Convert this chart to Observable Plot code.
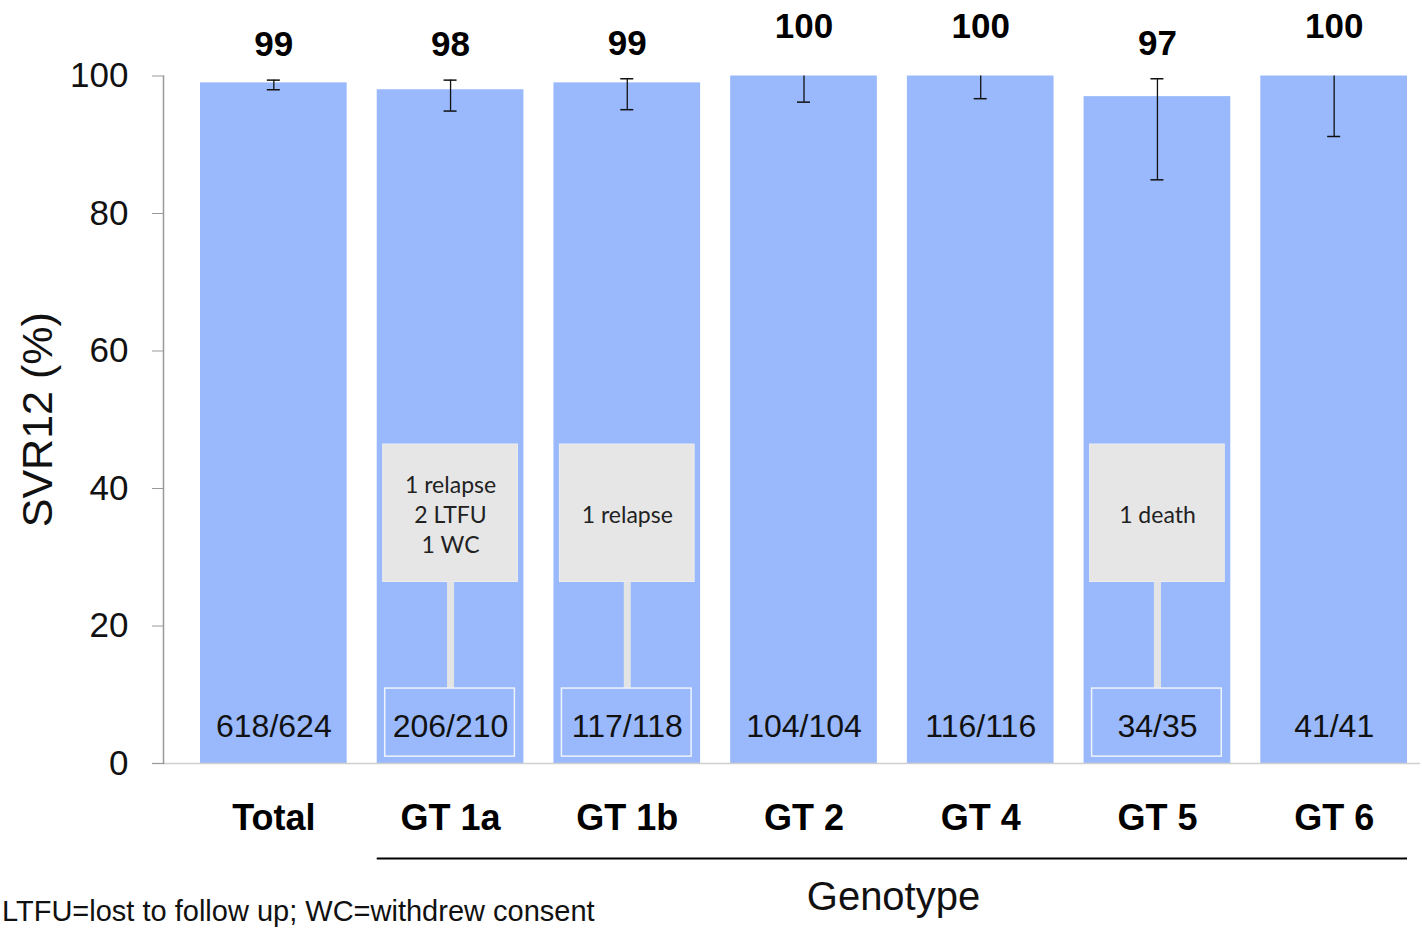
<!DOCTYPE html>
<html>
<head>
<meta charset="utf-8">
<script src="https://cdn.jsdelivr.net/npm/d3@7"></script>
<script src="https://cdn.jsdelivr.net/npm/@observablehq/plot@0.6"></script>
<style>
  html, body { margin: 0; padding: 0; background: #fff; }
  #wrap { position: relative; width: 1422px; height: 930px; overflow: hidden; background: #fff; }
  #foot { position: absolute; left: 2px; top: 897px; font: 29px/29px "Liberation Sans", Arial, sans-serif; color: #111; white-space: nowrap; }
</style>
</head>
<body>
<div id="wrap"><div id="chart"></div><div id="foot">LTFU=lost to follow up; WC=withdrew consent</div></div>
<script>
// ---- data ----
const categories = ["Total", "GT 1a", "GT 1b", "GT 2", "GT 4", "GT 5", "GT 6"];
const svr12 = [99, 98, 99, 100, 100, 97, 100];
const ciLow = [98.0, 94.9, 95.1, 96.2, 96.7, 84.9, 91.2];
const ciHigh = [99.4, 99.4, 99.6, 100, 100, 99.6, 100];
const fractions = ["618/624", "206/210", "117/118", "104/104", "116/116", "34/35", "41/41"];
const failureNotes = [
  {cat: "GT 1a", text: "1 relapse\n2 LTFU\n1 WC"},
  {cat: "GT 1b", text: "1 relapse"},
  {cat: "GT 5", text: "1 death"}
];
const yTicks = [0, 20, 40, 60, 80, 100];
const groupSpan = [{from: "GT 1a", to: "GT 6", label: "Genotype"}];
const yLabel = "SVR12 (%)";

const rows = categories.map((c, i) => ({cat: c, v: svr12[i], lo: ciLow[i], hi: ciHigh[i], frac: fractions[i]}));
const noted = new Set(failureNotes.map(d => d.cat));
const notedRows = rows.filter(d => noted.has(d.cat));

// annotation layout (in y-units)
const boxTop = 46.4, boxBottom = 26.4, fracTop = 10.9, fracBottom = 1.0;

const F = '"Liberation Sans", Arial, sans-serif';
const barColor = "#99b9fc";

const bandwidth = (1407 - 200) / (7 - 0.17) * 0.83;
const capInset = bandwidth / 2 - 6.5;

const chart = Plot.plot({
  width: 1422,
  height: 930,
  marginTop: 75.5,
  marginBottom: 167,
  marginLeft: 163,
  marginRight: 15,
  style: {background: "#fff", fontFamily: F, color: "#000", overflow: "visible"},
  x: {domain: categories, range: [200, 1407], paddingInner: 0.17, paddingOuter: 0, round: false, axis: null},
  y: {domain: [0, 100], axis: null},
  marks: [
    Plot.barY(rows, {x: "cat", y: "v", fill: barColor}),
    // baseline
    Plot.ruleY([0], {stroke: "#cfcfcf", strokeWidth: 1.5, insetLeft: -11, insetRight: -13}),
    // y axis line + ticks
    Plot.frame({anchor: "left", stroke: "#999", strokeWidth: 1.5}),
    Plot.axisY({ticks: yTicks, tickSize: 11, tickPadding: 24, fontSize: 35, stroke: "#999", fill: "#111", tickFormat: d => String(d)}),
    Plot.text([yLabel], {frameAnchor: "left", dx: -125, rotate: -90, fontSize: 43, fill: "#111", lineAnchor: "middle", textAnchor: "middle"}),
    // x axis category labels
    Plot.axisX({tickSize: 0, tickPadding: 41, fontSize: 36, fontWeight: "bold", fill: "#000"}),
    // failure note boxes
    Plot.rect(notedRows, {x: "cat", y1: boxBottom, y2: boxTop, fill: "#e6e6e6", stroke: "#ededed", insetLeft: 6, insetRight: 6}),
    Plot.ruleX(notedRows, {x: "cat", y1: fracTop, y2: boxBottom, stroke: "#e4e4e4", strokeWidth: 7}),
    Plot.rect(notedRows, {x: "cat", y1: fracBottom, y2: fracTop, fill: "none", stroke: "#eef2fb", strokeWidth: 1.5, insetLeft: 8, insetRight: 9}),
    Plot.text(failureNotes, {x: "cat", y: (boxTop + boxBottom) / 2, text: "text", fontFamily: "Lato, 'Open Sans', sans-serif", fontSize: 23, lineHeight: 1.3, fill: "#222", lineAnchor: "middle"}),
    // fractions
    Plot.text(rows, {x: "cat", y: 0, text: "frac", dy: -37, fontSize: 32, fill: "#111", lineAnchor: "middle"}),
    // error bars
    Plot.ruleX(rows, {x: "cat", y1: "lo", y2: d => Math.min(d.hi, 100), stroke: "#111", strokeWidth: 1.3}),
    Plot.tickY(rows, {x: "cat", y: "lo", stroke: "#111", strokeWidth: 1.5, insetLeft: capInset, insetRight: capInset}),
    Plot.tickY(rows.filter(d => d.hi < 100), {x: "cat", y: "hi", stroke: "#111", strokeWidth: 1.5, insetLeft: capInset, insetRight: capInset}),
    // value labels
    Plot.text(rows.filter(d => d.hi < 100), {x: "cat", y: "hi", text: d => String(d.v), dy: -35, fontSize: 35, fontWeight: "bold", fill: "#000", lineAnchor: "middle"}),
    Plot.text(rows.filter(d => d.hi >= 100), {x: "cat", y: "v", text: d => String(d.v), dy: -49, fontSize: 35, fontWeight: "bold", fill: "#000", lineAnchor: "middle"}),
    // genotype group line + label
    Plot.ruleY(groupSpan, {y: () => 0, x1: "from", x2: "to", dy: 95, stroke: "#000", strokeWidth: 2}),
    Plot.text(groupSpan, {frameAnchor: "bottom", text: "label", dx: 108, dy: 134, fontSize: 40, fill: "#111", lineAnchor: "middle"})
  ]
});
document.getElementById("chart").appendChild(chart);
</script>
</body>
</html>
